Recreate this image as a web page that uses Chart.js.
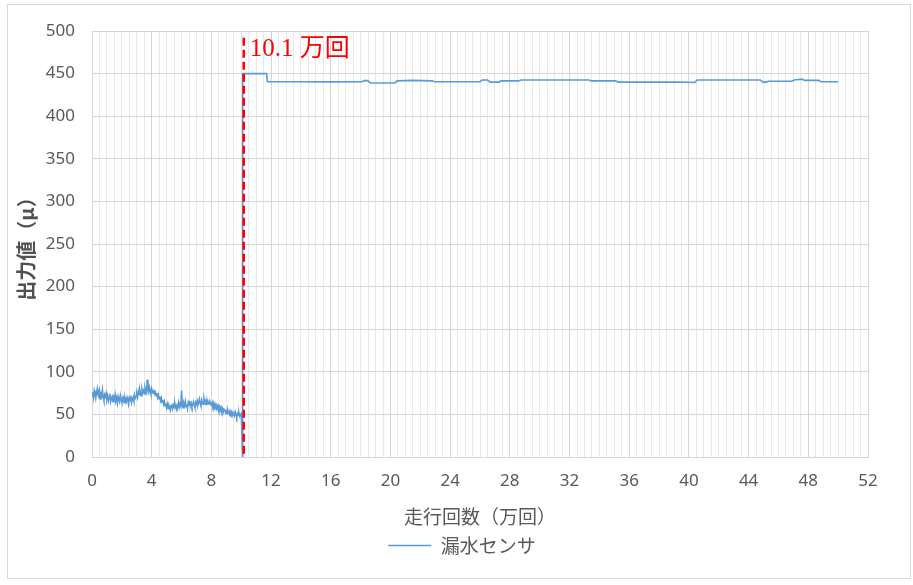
<!DOCTYPE html>
<html>
<head>
<meta charset="utf-8">
<script src="https://cdn.jsdelivr.net/npm/chart.js@4.4.1/dist/chart.umd.min.js"></script>
<style>
  html, body { margin: 0; padding: 0; background: #ffffff; }
  #wrap { position: relative; width: 913px; height: 585px; }
  canvas { display: block; }
</style>
</head>
<body>
<div id="wrap"><canvas id="c" width="913" height="585"></canvas></div>
<script>
// ---- data ----
const seriesName = '漏水センサ';
const xTitle = '走行回数（万回）';
const yTitle = '出力値（μ）';
const markerLabel = '10.1 万回';
const markerX = 10.1;

// noisy section: readings every 0.05 (万回) from 0 to 9.95
const sampleStart = 0;
const sampleStep = 0.05;
const sampleValues = [
  72, 76, 70, 78, 74, 69, 75, 80, 73, 71, 77, 68, 74, 72, 79, 70, 66, 73, 71, 75,
  68, 72, 66, 70, 74, 65, 69, 71, 64, 70, 67, 73, 66, 69, 63, 71, 68, 65, 72, 67,
  64, 69, 66, 71, 63, 68, 65, 70, 67, 62, 69, 66, 72, 64, 68, 70, 66, 73, 69, 71,
  74, 70, 77, 73, 79, 75, 72, 80, 76, 78, 74, 81, 77, 75, 91, 79, 76, 82, 78, 74,
  80, 77, 75, 79, 74, 76, 72, 75, 70, 73, 68, 71, 66, 69, 64, 67, 62, 65, 60, 63,
  58, 62, 57, 61, 59, 55, 60, 62, 57, 61, 58, 63, 59, 56, 61, 60, 64, 58, 62, 60,
  78, 61, 58, 63, 60, 65, 59, 62, 57, 64, 61, 66, 60, 63, 59, 62, 65, 61, 58, 64,
  62, 66, 61, 64, 68, 63, 60, 67, 64, 62, 69, 65, 63, 67, 61, 66, 64, 62, 65, 63,
  61, 64, 60, 63, 58, 62, 59, 61, 57, 60, 56, 59, 55, 58, 54, 57, 53, 56, 55, 52,
  54, 51, 55, 52, 50, 54, 51, 53, 49, 52, 50, 48, 53, 50, 47, 51, 49, 52, 48, 50
];

// stepped section after the jump
const stepX = [10.0, 10.1, 10.1, 11.7, 11.75, 14, 16, 18.1, 18.3, 18.5, 18.65, 20.3, 20.45, 21.5, 22.8, 22.95,
  26, 26.15, 26.5, 26.7, 27.3, 27.4, 28.6, 28.75, 33.3, 33.45, 35.1, 35.25, 39.4, 40.4, 40.55,
  44.8, 44.95, 45.2, 45.3, 46.9, 47.05, 47.6, 47.75, 48.7, 48.85, 50];
const stepY = [51, 0, 450, 450, 440.5, 440.5, 440.3, 440.5, 442, 441.5, 439, 439, 441.5, 442, 441.5, 440.5,
  440.5, 442.5, 442.5, 440, 440, 441.5, 441.5, 442.5, 442.5, 441.5, 441.5, 440, 440, 439.5, 442.5,
  442.5, 440, 440, 441, 441, 442.5, 443.5, 442, 442, 440.4, 440.5];

const xMin = 0, xMax = 52, xMinorStep = 0.5, xMajorStep = 4;
const yMin = 0, yMax = 500, yStep = 50;

// ---- build dataset ----
const points = sampleValues.map((v, i) => ({ x: +(sampleStart + i * sampleStep).toFixed(2), y: v }));
stepX.forEach((x, i) => points.push({ x: x, y: stepY[i] }));

const tickColor = '#595959';
const gridMajor = '#d4d4d4';
const gridMinor = '#e9e9e9';

const framePlugin = {
  id: 'frame',
  afterLayout(chart) {
    // centre the legend under the plot like the original
    const lg = chart.legend;
    if (lg) { lg.left += 28; lg.right += 28; }
  },
  beforeDraw(chart) {
    const ctx = chart.ctx;
    ctx.save();
    ctx.fillStyle = '#ffffff';
    ctx.fillRect(0, 0, chart.width, chart.height);
    ctx.strokeStyle = '#d9d9d9';
    ctx.lineWidth = 1;
    ctx.strokeRect(7.5, 4.5, 903, 574);
    ctx.restore();
  },
  afterDatasetsDraw(chart) {
    const ctx = chart.ctx;
    const xs = chart.scales.x, ys = chart.scales.y;
    const px = xs.getPixelForValue(markerX) + 1;
    ctx.save();
    ctx.strokeStyle = '#ff0000';
    ctx.lineWidth = 2.5;
    ctx.setLineDash([8, 4]);
    ctx.beginPath();
    ctx.moveTo(px, ys.getPixelForValue(492));
    ctx.lineTo(px, ys.getPixelForValue(0));
    ctx.stroke();
    ctx.setLineDash([]);
    ctx.fillStyle = '#ff0000';
    ctx.font = '25px "Liberation Serif", "Noto Sans CJK JP", serif';
    ctx.textBaseline = 'middle';
    ctx.textAlign = 'left';
    ctx.fillText(markerLabel, px + 6, ys.getPixelForValue(478));
    ctx.restore();
  }
};

new Chart(document.getElementById('c'), {
  type: 'line',
  data: {
    datasets: [{
      label: seriesName,
      data: points,
      borderColor: '#5b9bd5',
      backgroundColor: '#5b9bd5',
      borderWidth: 1.6,
      pointRadius: 0,
      tension: 0,
      pointStyle: 'line'
    }]
  },
  options: {
    responsive: false,
    devicePixelRatio: 1,
    animation: false,
    layout: { padding: { top: 31, right: 45, left: 0, bottom: 20 } },
    plugins: {
      tooltip: { enabled: false },
      legend: {
        position: 'bottom',
        labels: {
          usePointStyle: true,
          pointStyleWidth: 43,
          boxHeight: 19,
          padding: 6,
          color: tickColor,
          font: { family: '"Noto Sans CJK JP", sans-serif', size: 19 }
        }
      }
    },
    scales: {
      x: {
        type: 'linear',
        min: xMin, max: xMax,
        afterFit(s) { s.height = 73; },
        ticks: {
          stepSize: xMinorStep,
          autoSkip: false,
          maxRotation: 0,
          padding: 14,
          color: tickColor,
          font: { family: '"Noto Sans", sans-serif', size: 17 },
          callback: (v) => (v % xMajorStep === 0 ? String(v) : '')
        },
        grid: {
          drawTicks: false,
          color: (c) => (c.tick && c.tick.value % xMajorStep === 0 ? gridMajor : gridMinor),
          lineWidth: 1
        },
        border: { color: gridMajor },
        title: {
          display: true,
          text: xTitle,
          color: tickColor,
          padding: { top: 0, bottom: 2 },
          font: { family: '"Noto Sans CJK JP", sans-serif', size: 19 }
        }
      },
      y: {
        min: yMin, max: yMax,
        afterFit(s) { s.width = 92; },
        ticks: {
          stepSize: yStep,
          padding: 17,
          color: tickColor,
          font: { family: '"Noto Sans", sans-serif', size: 17 }
        },
        grid: { drawTicks: false, color: gridMajor },
        border: { color: gridMajor },
        title: {
          display: true,
          text: yTitle,
          color: '#505050',
          padding: { top: 14, bottom: 0 },
          font: { family: '"Noto Sans CJK JP", sans-serif', size: 20, weight: 'bold' }
        }
      }
    }
  },
  plugins: [framePlugin]
});
</script>
</body>
</html>
